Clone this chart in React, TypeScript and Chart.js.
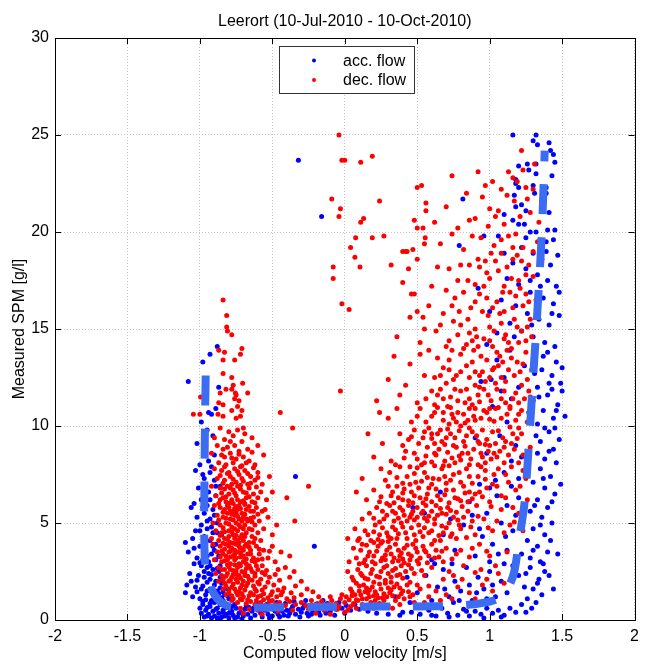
import React, { useEffect, useRef } from "react";
import { Chart, registerables } from "chart.js";

Chart.register(...registerables);

const TITLE = "Leerort (10-Jul-2010 - 10-Oct-2010)";
const X_LABEL = "Computed flow velocity [m/s]";
const Y_LABEL = "Measured SPM [g/l]";
const SERIES_NAMES = ["acc. flow", "dec. flow"];
const X_TICKS = [-2, -1.5, -1, -0.5, 0, 0.5, 1, 1.5, 2];
const Y_TICKS = [0, 5, 10, 15, 20, 25, 30];

type P = [number, number];

// ---------- acc. flow (blue) ----------
const accLeft: P[] = [
  [-0.88,14.1],[-0.93,13.7],[-0.98,13.3],[-1.08,12.3],[-0.87,12.0],[-0.89,10.9],[-0.94,10.7],[-0.92,10.6],
  [-0.99,10.2],[-0.95,9.8],[-0.91,9.5],[-1.02,9.1],[-0.97,8.8],[-0.9,8.5],[-0.94,8.2],[-1.0,8.0],
  [-1.03,7.7],[-0.98,7.5],[-0.93,7.6],[-0.9,7.2],[-0.96,7.0],[-1.01,6.8],[-0.94,6.6],[-0.89,6.4],[-0.99,6.2],
  [-1.04,6.0],[-0.95,5.9],[-0.91,5.7],[-0.97,5.5],[-1.02,5.3],[-0.93,5.2],[-0.88,5.0],[-1.06,5.8],[-0.86,6.9],
  [-0.99,4.9],[-0.95,4.7],[-1.03,4.6],[-0.91,4.5],[-0.97,4.3],[-1.05,4.2],[-0.93,4.1],[-0.89,3.9],[-1.0,3.8],
  [-0.96,3.6],[-1.08,3.5],[-0.92,3.4],[-0.87,3.3],[-1.02,3.2],[-0.98,3.1],[-0.94,3.0],[-0.9,3.6],[-0.85,4.4],[-1.1,4.0],
  [-1.04,2.9],[-0.99,2.8],[-0.95,2.7],[-0.91,2.6],[-0.87,2.5],[-1.07,2.4],[-1.01,2.3],[-0.97,2.2],[-0.93,2.1],
  [-0.89,2.0],[-0.85,1.9],[-1.09,1.8],[-1.03,1.7],[-0.99,1.6],[-0.95,1.5],[-0.91,1.45],[-0.87,1.35],[-0.83,1.3],
  [-1.05,1.2],[-1.0,1.1],[-0.96,1.05],[-0.92,1.0],[-0.88,0.95],[-0.84,1.0],[-0.8,1.1],[-1.1,1.4],[-0.94,2.4],
  [-0.86,2.8],[-1.06,2.0],[-0.81,1.6],[-0.21,3.8],[-0.34,7.4],[-0.32,23.7],[-0.16,20.8]
];

const accLeftDense: P[] = [
  [-0.92,7.9],[-0.97,7.3],[-0.89,6.9],[-0.93,6.2],[-0.98,5.8],[-0.9,5.4],[-0.95,5.1],[-1.0,4.6],[-0.92,4.8],
  [-0.88,4.5],[-0.96,4.0],[-0.91,3.8],[-1.04,3.7],[-0.95,3.3],[-0.89,3.1],[-1.0,2.95],[-0.93,2.8],[-0.88,2.65],
  [-0.97,2.5],[-0.92,2.35],[-0.86,2.2],[-1.02,2.05],[-0.95,1.95],[-0.9,1.8],[-0.86,1.65],[-0.98,1.75],[-0.93,1.6],
  [-0.88,1.5],[-0.84,1.45],[-1.02,1.45],[-0.96,1.3],[-0.9,1.2],[-0.85,1.15],[-0.81,1.25],[-0.98,0.95],[-0.93,0.85],
  [-0.86,0.8],[-0.82,0.65],[-0.78,0.7],[-1.0,0.6],[-0.95,0.65],[-0.89,0.55],[-0.84,0.4],[-0.8,0.35],[-0.76,0.1],
  [-0.71,0.05],[-0.99,0.35],[-0.95,0.2],[-0.88,0.1],[-0.83,0.2],[-0.63,0.6],[-0.56,0.65],[-0.49,0.55],[-0.43,0.45],
  [-0.37,0.55],[-0.29,0.6],[-0.23,0.3],[-0.13,0.35],[-0.07,0.25],[0.0,0.35]
];

const accBottom: P[] = [
  [-0.98,0.8],[-0.96,0.5],[-0.94,0.3],[-0.93,0.7],[-0.91,0.45],[-0.9,0.2],[-0.88,0.6],[-0.87,0.35],[-0.85,0.15],
  [-0.84,0.5],[-0.82,0.3],[-0.81,0.7],[-0.8,0.1],[-0.78,0.45],[-0.77,0.25],[-0.75,0.6],[-0.74,0.15],[-0.72,0.4],
  [-0.7,0.2],[-0.69,0.55],[-0.67,0.3],[-0.65,0.1],[-0.64,0.45],[-0.62,0.25],[-0.6,0.6],[-0.58,0.35],[-0.57,0.15],
  [-0.55,0.5],[-0.53,0.3],[-0.51,0.65],[-0.5,0.2],[-0.48,0.45],[-0.46,0.3],[-0.44,0.6],[-0.42,0.25],[-0.4,0.5],
  [-0.38,0.35],[-0.36,0.7],[-0.34,0.3],[-0.32,0.55],[-0.3,0.4],[-0.28,0.75],[-0.26,0.35],[-0.24,0.6],[-0.22,0.45],
  [-0.2,0.8],[-0.18,0.4],[-0.16,0.65],[-0.14,0.5],[-0.12,0.85],[-0.1,0.45],[-0.08,0.7],[-0.06,0.55],[-0.04,0.9],
  [-0.02,0.6],[0.01,0.75],[0.04,0.5],[0.07,0.8],[-0.92,0.1],[-0.86,0.05],[-0.79,0.55],[-0.73,0.35],[-0.66,0.65],
  [-0.59,0.5],[-0.52,0.1],[-0.45,0.15],[-0.39,0.2],[-0.31,0.15],[-0.25,0.2],[-0.17,0.25],[-0.9,0.9],[-0.83,0.85],
  [-0.76,0.8],[-0.68,0.75],[-0.61,0.85],[-0.54,0.8],[-0.47,0.9],[-0.41,0.85],[-0.35,0.95],[-0.27,1.0],[-0.15,1.0],
  [0.1,0.55],[0.16,0.45],[0.22,0.35],[0.3,0.3],[0.38,0.25],[0.46,0.4],[-0.97,0.15]
];

const accRight: P[] = [
  [1.16,25.0],[1.32,25.0],[1.3,24.7],[1.33,24.5],[1.41,24.6],[1.42,24.2],[1.32,23.5],[1.26,23.5],[1.2,23.4],
  [1.27,23.2],[1.43,22.9],[1.32,23.0],[1.18,22.7],[1.18,22.5],[1.2,22.3],[1.17,21.9],[1.3,22.4],[1.39,22.3],
  [1.31,22.0],[1.39,22.0],[0.815,21.7],[1.22,21.4],[1.18,21.3],[1.25,21.1],[1.41,21.0],[1.1,20.9],[1.16,20.6],
  [1.2,20.4],[1.24,20.4],[1.28,20.0],[1.32,20.0],[1.4,20.1],[1.45,20.1],[0.96,19.8],[1.06,19.8],[0.79,19.3],
  [1.39,19.5],[1.44,19.6],[1.44,24.0],[1.45,23.6],
  [1.22,19.2],[1.3,18.9],[1.36,18.6],[1.42,18.3],[1.47,18.8],[1.16,18.4],[1.25,18.1],[1.33,17.8],[1.4,17.5],
  [1.46,17.2],[1.12,17.6],[1.2,17.3],[1.28,16.9],[1.37,16.6],[1.44,16.3],[1.08,16.5],[1.18,16.2],[1.26,15.8],
  [1.34,15.5],[1.41,15.2],[1.48,15.7],[1.14,15.3],[1.22,14.9],[1.3,14.6],[1.38,14.3],[1.45,14.1],[1.05,14.8],
  [1.1,18.9],[1.0,15.9],[0.92,17.1],[1.39,19.0],[1.48,16.9],
  [1.4,13.8],[1.46,13.3],[1.36,12.9],[1.43,12.6],[1.49,12.2],[1.33,12.0],[1.4,11.6],[1.47,11.1],[1.52,10.5],
  [1.3,11.3],[1.37,10.8],[1.44,10.4],[1.33,10.1],[1.41,9.7],[1.48,9.3],[1.35,9.2],[1.44,8.8],[1.38,8.3],
  [1.46,8.1],[1.05,13.4],[1.1,12.5],[1.15,11.4],[1.02,11.0],[1.12,10.2],[1.07,9.5],[1.18,9.0],[0.98,8.6],
  [1.22,8.4],[1.24,13.1],[1.2,12.0],[1.27,10.7],[1.14,13.9],[0.94,12.3],[1.45,9.9],[1.5,11.8],
  [1.35,7.8],[1.42,7.4],[1.3,7.1],[1.38,6.8],[1.45,6.5],[1.33,6.2],[1.4,5.8],[1.28,5.6],[1.36,5.3],[1.43,5.0],
  [1.3,4.7],[1.38,4.4],[1.26,4.1],[1.33,3.8],[1.4,3.5],[1.28,3.2],[1.35,3.0],[1.1,7.6],[1.15,6.9],[1.05,6.4],
  [1.12,5.9],[0.98,5.5],[1.08,5.0],[1.16,4.6],[0.95,4.3],[1.02,3.9],[1.12,3.6],[0.9,3.3],[1.0,3.0],[1.2,7.3],
  [0.86,6.1],[0.82,4.9],[0.76,3.6],[0.68,4.4],[0.6,3.1],[0.55,5.5],[0.47,5.8],[0.43,2.2],[0.66,6.6],[0.93,7.0],
  [1.22,3.4],[1.18,5.4],[1.04,7.2],
  [0.52,0.3],[0.58,0.5],[0.63,0.2],[0.67,0.6],[0.71,0.35],[0.75,0.9],[0.78,0.25],[0.82,0.55],[0.86,0.2],
  [0.9,0.45],[0.94,0.3],[0.98,0.6],[1.02,0.35],[1.06,0.5],[1.1,0.25],[1.14,0.6],[1.18,0.4],[1.22,0.8],
  [1.26,1.1],[1.3,1.6],[1.34,2.1],[1.38,2.5],[1.24,1.7],[1.2,2.3],[1.16,2.8],[1.12,1.4],[1.08,2.0],[1.04,1.2],
  [1.0,2.5],[0.96,1.6],[0.92,2.2],[0.88,1.0],[0.84,2.7],[0.8,1.5],[0.76,2.0],[0.72,1.2],[0.68,2.6],[0.64,1.7],
  [0.6,1.0],[0.56,2.3],[0.5,1.4],[0.45,0.9],[0.4,0.4],[0.35,1.2],[0.62,2.9],[0.74,2.9],[0.86,1.8],[0.98,1.1],
  [1.1,2.9],[1.28,2.7],[1.32,0.9],[1.36,1.3]
];

const accRightDense: P[] = [
  [1.25,19.7],[1.35,17.2],[1.43,15.8],[1.29,15.2],[1.37,13.6],[1.31,12.7],[1.41,12.2],[1.34,11.5],[1.43,11.9],
  [1.38,9.9],[1.32,9.5],[1.41,8.7],[1.33,8.6],[1.37,7.3],[1.43,6.1],[1.31,5.9],[1.35,4.9],[1.42,4.1],[1.3,3.6],
  [1.37,2.9],[1.25,2.4],[1.33,1.9],[1.41,2.3],[1.29,0.6],[1.25,0.4],[1.08,0.15],[0.96,0.1],[0.84,0.45],[0.72,0.15],
  [0.6,0.25],[0.69,1.6],[0.79,1.0],[0.91,1.4],[1.02,1.8],[1.15,2.2],[1.06,3.4],[0.93,4.7],[1.11,4.3],[1.2,6.3],
  [1.0,6.8],[0.88,5.4],[0.73,5.2],[1.15,8.2],[1.08,11.8],[1.17,14.6],[1.28,17.5],[1.5,13.0],[1.46,10.8],[1.49,7.0],
  [1.47,3.4],[1.44,1.6],[0.98,14.2],[0.9,9.4],[1.01,12.4]
];

// ---------- dec. flow (red) ----------
const decOutliers: P[] = [
  [-0.04,25.0],[-0.02,23.7],[0.0,23.7],[0.11,23.6],[0.19,23.9],[0.5,22.3],[0.53,22.4],[-0.09,21.7],[0.24,21.6],
  [-0.03,21.2],[-0.04,20.8],[0.13,20.7],[0.11,20.5],[0.56,21.5],[0.56,21.1],[0.48,20.6],[0.5,20.2],[0.54,20.2],
  [0.075,19.7],[0.19,19.7],[0.27,19.8],[0.04,19.2],[0.07,18.7],[0.4,19.0],[0.42,19.0],[0.43,19.0],[0.47,19.1],
  [0.55,19.4],[0.555,19.7],[-0.08,18.2],[0.105,18.2],[0.32,18.3],[0.44,18.1],[-0.08,17.6],[0.46,16.8],[0.48,16.8],
  [-0.02,16.3],[0.03,16.0],[0.5,15.9],[0.54,15.6],
  [-0.84,16.5],[-0.815,15.7],[-0.815,15.1],[-0.81,14.9],[-0.78,14.7],[-0.87,13.9],[-0.83,13.8],[-0.71,14.0],
  [-0.72,13.7],[-0.84,13.4],[-0.76,13.4],[-0.84,12.7],[-0.78,12.5],[-0.77,12.1],[-0.705,12.2],[-0.82,11.9],
  [-0.78,11.9],[-0.86,11.7],[-0.755,11.7],[-0.67,11.7],[-0.75,11.6],[-0.995,11.5],[-0.76,11.4],[-0.87,11.2],
  [-0.73,11.3],[-0.84,11.1],[-0.74,11.0],[-0.78,10.8],[-0.71,10.8],[-1.045,10.6],[-1.0,10.6],[-0.875,10.6],
  [-0.84,10.5],[-0.75,10.4],[-0.72,10.5],[-0.445,10.7],[-0.36,9.9],[-0.03,11.8],[-0.25,6.9],[-0.40,6.3],[-0.345,5.1]
];

const decLeft: P[] = [
  [-0.86,9.9],[-0.8,9.7],[-0.74,9.8],[-0.69,9.6],[-0.9,9.4],[-0.83,9.3],[-0.77,9.5],[-0.71,9.2],[-0.64,9.4],
  [-0.88,9.0],[-0.81,8.9],[-0.76,9.0],[-0.73,8.7],[-0.67,8.8],[-0.6,9.0],[-0.92,8.6],[-0.85,8.5],[-0.79,8.6],
  [-0.75,8.3],[-0.7,8.4],[-0.66,8.2],[-0.87,8.1],[-0.82,8.0],[-0.77,8.1],[-0.72,7.9],[-0.62,8.0],[-0.56,8.5],
  [-0.84,8.8],[-0.79,9.2],[-0.7,9.9],
  [-0.9,7.8],[-0.85,7.7],[-0.8,7.6],[-0.76,7.8],[-0.73,7.5],[-0.69,7.7],[-0.65,7.4],[-0.6,7.6],[-0.88,7.3],
  [-0.83,7.2],[-0.79,7.4],[-0.75,7.1],[-0.71,7.3],[-0.67,7.0],[-0.62,7.2],[-0.57,7.0],[-0.92,6.9],[-0.86,6.8],
  [-0.81,6.9],[-0.77,6.7],[-0.74,6.9],[-0.7,6.6],[-0.66,6.8],[-0.63,6.5],[-0.58,6.6],[-0.89,6.4],[-0.84,6.3],
  [-0.8,6.5],[-0.78,6.2],[-0.75,6.4],[-0.72,6.1],[-0.68,6.3],[-0.64,6.1],[-0.6,6.3],[-0.54,6.2],[-0.87,6.0],
  [-0.82,6.1],[-0.77,6.0],[-0.73,5.9],[-0.69,6.0],[-0.83,7.9],[-0.71,7.95],[-0.78,7.0],[-0.5,6.6],[-0.52,7.4],
  [-0.9,5.9],[-0.86,5.8],[-0.83,5.7],[-0.8,5.8],[-0.77,5.6],[-0.74,5.7],[-0.71,5.5],[-0.68,5.7],[-0.65,5.6],
  [-0.61,5.8],[-0.57,5.6],[-0.88,5.4],[-0.84,5.3],[-0.81,5.5],[-0.79,5.2],[-0.76,5.4],[-0.73,5.2],[-0.7,5.3],
  [-0.67,5.1],[-0.63,5.3],[-0.59,5.1],[-0.53,5.3],[-0.91,5.0],[-0.86,4.9],[-0.82,5.0],[-0.78,4.8],[-0.75,5.0],
  [-0.72,4.8],[-0.69,4.9],[-0.66,4.7],[-0.62,4.9],[-0.56,4.7],[-0.89,4.6],[-0.85,4.5],[-0.8,4.6],[-0.77,4.4],
  [-0.74,4.6],[-0.71,4.4],[-0.68,4.5],[-0.64,4.3],[-0.6,4.5],[-0.5,4.4],[-0.92,4.2],[-0.87,4.1],[-0.83,4.2],
  [-0.79,4.0],[-0.76,4.2],[-0.73,4.0],[-0.7,4.1],[-0.66,4.0],[-0.58,4.1],[-0.47,4.9],[-0.81,5.9],[-0.75,5.85],
  [-0.69,5.95],[-0.84,4.75],[-0.78,5.45],[-0.72,4.25],[-0.64,5.05],[-0.55,5.7],[-0.76,4.7],[-0.8,4.3],
  [-0.91,3.9],[-0.86,3.8],[-0.82,3.9],[-0.78,3.7],[-0.75,3.9],[-0.72,3.7],[-0.69,3.8],[-0.65,3.6],[-0.61,3.8],
  [-0.56,3.6],[-0.5,3.8],[-0.44,3.5],[-0.88,3.5],[-0.84,3.4],[-0.8,3.5],[-0.77,3.3],[-0.74,3.5],[-0.7,3.3],
  [-0.67,3.4],[-0.63,3.2],[-0.59,3.4],[-0.53,3.2],[-0.9,3.1],[-0.85,3.0],[-0.81,3.1],[-0.79,2.9],[-0.76,3.1],
  [-0.73,2.9],[-0.7,3.0],[-0.66,2.8],[-0.62,3.0],[-0.57,2.8],[-0.48,3.0],[-0.41,2.7],[-0.87,2.7],[-0.83,2.6],
  [-0.8,2.75],[-0.77,2.55],[-0.74,2.7],[-0.71,2.5],[-0.68,2.65],[-0.64,2.5],[-0.6,2.6],[-0.54,2.55],[-0.46,2.6],
  [-0.38,3.3],[-0.35,2.5],[-0.83,3.65],[-0.76,3.6],[-0.68,3.15],[-0.6,3.1],[-0.52,3.55],[-0.79,3.25],[-0.72,3.25],
  [-0.86,3.25],
  [-0.89,2.4],[-0.85,2.3],[-0.81,2.4],[-0.78,2.2],[-0.75,2.35],[-0.72,2.15],[-0.69,2.3],[-0.66,2.1],[-0.62,2.25],
  [-0.58,2.1],[-0.52,2.2],[-0.45,2.05],[-0.38,2.2],[-0.3,2.0],[-0.87,2.0],[-0.83,1.9],[-0.8,2.0],[-0.77,1.85],
  [-0.74,1.95],[-0.71,1.8],[-0.67,1.9],[-0.63,1.75],[-0.59,1.85],[-0.55,1.7],[-0.49,1.8],[-0.42,1.65],[-0.34,1.75],
  [-0.26,1.6],[-0.84,1.6],[-0.8,1.55],[-0.76,1.6],[-0.73,1.45],[-0.69,1.55],[-0.65,1.4],[-0.61,1.5],[-0.56,1.35],
  [-0.5,1.45],[-0.44,1.3],[-0.37,1.4],[-0.3,1.3],[-0.22,1.45],[-0.82,1.3],[-0.78,1.25],[-0.74,1.3],[-0.7,1.2],
  [-0.66,1.25],[-0.6,1.2],[-0.53,1.15],[-0.47,1.2],[-0.4,1.1]
];

const decLeftCore: P[] = [
  [-0.83,8.4],[-0.78,8.35],[-0.73,8.55],[-0.68,8.1],[-0.64,8.65],[-0.81,7.55],[-0.74,7.65],[-0.67,7.55],[-0.63,7.85],
  [-0.86,7.45],[-0.77,7.25],[-0.7,7.15],[-0.6,7.35],[-0.84,7.05],[-0.72,6.95],[-0.65,7.05],
  [-0.83,6.75],[-0.79,6.8],[-0.72,6.75],[-0.68,6.55],[-0.61,6.85],[-0.85,6.55],[-0.76,6.55],[-0.66,6.35],[-0.82,6.35],
  [-0.79,6.05],[-0.74,6.2],[-0.7,6.15],[-0.62,6.05],[-0.86,6.2],[-0.76,5.75],[-0.72,5.75],[-0.66,5.85],[-0.63,5.6],
  [-0.84,5.55],[-0.79,5.6],[-0.75,5.5],[-0.69,5.45],[-0.6,5.45],[-0.82,5.25],[-0.77,5.15],[-0.71,5.1],[-0.65,5.25],
  [-0.87,5.15],[-0.74,5.35],[-0.68,5.2],
  [-0.8,4.95],[-0.73,4.9],[-0.7,4.7],[-0.64,4.65],[-0.83,4.55],[-0.78,4.55],[-0.75,4.35],[-0.69,4.3],[-0.62,4.2],
  [-0.86,4.35],[-0.81,4.15],[-0.77,3.95],[-0.74,4.1],[-0.68,3.9],[-0.63,4.0],[-0.84,3.95],[-0.8,3.8],[-0.73,3.8],
  [-0.7,3.6],[-0.66,3.75],[-0.59,3.65],[-0.85,3.55],[-0.79,3.55],[-0.76,3.4],[-0.72,3.45],[-0.65,3.4],[-0.82,3.3],
  [-0.75,3.2],[-0.69,3.15],[-0.64,3.05],[-0.57,3.15],[-0.83,3.05],
  [-0.81,2.85],[-0.76,2.85],[-0.72,2.8],[-0.68,2.9],[-0.61,2.8],[-0.85,2.6],[-0.79,2.6],[-0.75,2.5],[-0.69,2.45],
  [-0.65,2.65],[-0.57,2.45],[-0.82,2.25],[-0.77,2.35],[-0.73,2.3],[-0.67,2.25],[-0.62,2.4],[-0.55,2.35],[-0.48,2.35],
  [-0.84,2.1],[-0.79,2.05],[-0.75,2.1],[-0.7,2.0],[-0.64,2.05],[-0.6,1.95],[-0.53,1.95],[-0.82,1.75],[-0.78,1.7],
  [-0.72,1.65],[-0.68,1.75],[-0.62,1.6],[-0.57,1.55],[-0.46,1.55],[-0.8,1.4],[-0.75,1.45],[-0.71,1.35],[-0.63,1.3],
  [-0.58,1.25],[-0.51,1.3],[-0.43,1.45],[-0.35,1.15],[-0.77,1.1],[-0.72,1.1],[-0.67,1.05],[-0.61,1.0],[-0.56,1.05],
  [-0.5,1.0]
];

const decBottom: P[] = [
  [-0.78,1.0],[-0.74,0.9],[-0.71,1.05],[-0.68,0.85],[-0.65,0.95],[-0.62,0.8],[-0.58,0.9],[-0.55,0.75],[-0.52,0.95],
  [-0.48,0.8],[-0.45,0.9],[-0.41,0.75],[-0.38,0.95],[-0.34,0.8],[-0.3,0.9],[-0.27,0.75],[-0.23,1.0],[-0.19,0.85],
  [-0.16,0.95],[-0.12,0.8],[-0.09,1.0],[-0.06,0.85],[-0.03,1.1],[0.0,0.9],[0.03,1.05],[0.06,0.85],[0.09,1.0],
  [0.12,0.8],[0.15,1.1],[0.18,0.9],[0.21,1.0],[0.24,0.85],[-0.72,0.6],[-0.66,0.55],[-0.6,0.5],[-0.53,0.55],
  [-0.46,0.45],[-0.36,0.5],[-0.25,0.55],[-0.14,0.5],[-0.05,0.55],[0.02,0.5],[0.08,0.6],[-0.1,1.2],[-0.02,1.3],
  [0.05,1.25],[0.11,1.3],[-0.18,1.2],[0.0,0.4],[-0.04,0.7],[0.04,0.7],[-0.08,0.65],[0.14,0.6],[-0.7,0.35],
  [-0.57,0.3],[0.2,0.6],[0.27,1.0],[0.3,0.75],[-0.2,0.35],[-0.1,0.3]
];

const decFan: P[] = [
  [0.1,1.5],[0.13,1.8],[0.16,1.4],[0.19,1.7],[0.22,1.3],[0.25,1.6],[0.28,1.9],[0.31,1.4],[0.34,1.7],[0.37,1.2],
  [0.4,1.5],[0.43,1.8],[0.12,1.1],[0.17,1.2],[0.23,1.15],[0.29,1.2],[0.35,1.0],[0.41,1.1],[0.47,1.3],[0.52,1.6],
  [0.58,1.2],[0.63,1.5],[0.7,1.3],[0.78,1.7],[0.86,1.4],[0.95,1.8],[1.02,1.5],[1.1,1.9],[0.08,1.9],[0.2,1.95],
  [0.32,1.95],[0.45,1.95],[0.55,0.9],[0.66,1.0],[0.74,1.1],[0.9,1.1],[0.33,0.6],[0.38,0.8],[0.48,0.9],
  [0.05,2.2],[0.09,2.6],[0.12,2.3],[0.15,2.8],[0.18,2.4],[0.21,2.9],[0.24,2.2],[0.27,2.7],[0.3,2.4],[0.33,3.0],
  [0.36,2.3],[0.39,2.8],[0.42,2.5],[0.45,3.1],[0.48,2.4],[0.51,2.9],[0.55,2.3],[0.6,2.7],[0.08,3.2],[0.11,3.6],
  [0.14,3.1],[0.17,3.5],[0.2,3.3],[0.23,3.8],[0.26,3.2],[0.29,3.6],[0.32,3.4],[0.35,3.9],[0.38,3.3],[0.41,3.7],
  [0.44,3.4],[0.47,3.9],[0.5,3.5],[0.54,3.8],[0.58,3.3],[0.63,3.6],[0.68,3.0],[0.72,2.5],[0.77,3.4],[0.82,2.8],
  [0.88,3.7],[0.94,2.6],[1.0,3.3],[1.06,2.4],[1.12,3.5],[1.18,2.9],[0.02,2.5],[0.16,2.1],[0.28,2.05],[0.4,2.15],
  [0.25,3.95],[0.13,2.95],[0.37,3.05],
  [0.1,4.2],[0.14,4.6],[0.18,4.1],[0.21,4.9],[0.24,4.4],[0.27,5.2],[0.3,4.3],[0.33,4.8],[0.36,4.2],[0.39,5.0],
  [0.42,4.5],[0.45,5.3],[0.48,4.4],[0.51,4.9],[0.54,4.3],[0.57,5.1],[0.6,4.6],[0.64,5.4],[0.68,4.5],[0.72,5.0],
  [0.17,5.5],[0.22,5.8],[0.26,5.6],[0.31,5.9],[0.35,5.5],[0.38,5.8],[0.41,5.4],[0.44,5.9],[0.47,5.6],[0.5,5.8],
  [0.53,5.5],[0.56,5.9],[0.6,5.6],[0.63,5.9],[0.67,5.5],[0.71,5.8],[0.75,5.3],[0.8,4.7],[0.85,5.6],[0.9,4.4],
  [0.96,5.2],[1.02,4.6],[1.08,5.7],[1.14,4.9],[1.2,5.5],[0.07,4.7],[0.12,5.2],[0.02,4.2],[0.35,4.65],[0.55,4.75],
  [0.26,4.05],[0.48,5.15],[0.66,4.1],[0.77,4.2],[0.88,5.1],
  [0.15,6.2],[0.2,6.7],[0.24,6.1],[0.28,7.2],[0.32,6.4],[0.36,6.9],[0.4,6.2],[0.43,7.4],[0.46,6.6],[0.49,7.1],
  [0.52,6.3],[0.55,7.6],[0.58,6.8],[0.61,7.3],[0.64,6.4],[0.67,7.8],[0.7,6.7],[0.73,7.2],[0.76,6.3],[0.79,7.6],
  [0.82,6.9],[0.86,7.4],[0.9,6.5],[0.94,7.9],[0.98,6.8],[1.03,7.5],[1.08,6.4],[1.13,7.1],[1.18,6.7],[1.23,7.7],
  [0.25,7.8],[0.31,7.6],[0.38,7.9],[0.5,7.85],[0.62,7.95],[0.72,7.95],[0.85,6.1],[0.41,6.75],[0.56,6.25],[0.69,7.4],
  [0.8,6.15],[0.34,6.05],[0.47,6.05],[0.08,6.6],[0.12,7.3],[1.0,6.1],
  [0.2,8.4],[0.26,9.1],[0.32,8.2],[0.38,9.6],[0.42,8.7],[0.46,10.2],[0.5,8.3],[0.54,9.4],[0.57,8.9],[0.6,10.5],
  [0.63,8.5],[0.66,9.8],[0.69,8.2],[0.72,10.1],[0.75,9.0],[0.78,10.7],[0.81,8.6],[0.84,9.5],[0.87,8.3],[0.9,10.3],
  [0.93,9.1],[0.96,10.8],[0.99,8.7],[1.02,9.7],[1.05,8.4],[1.08,10.4],[1.11,9.2],[1.14,10.9],[1.17,8.8],[1.2,9.9],
  [1.23,8.5],[0.3,10.4],[0.36,10.9],[0.44,9.3],[0.52,10.9],[0.58,9.9],[0.64,10.95],[0.7,9.4],[0.76,8.1],[0.8,10.0],
  [0.86,10.9],[0.92,8.0],[0.98,9.3],[1.04,10.9],[1.1,8.1],[1.16,9.6],[0.48,9.8],[0.62,9.1],[0.74,10.6],[0.88,9.7],
  [0.95,8.4],[1.0,10.35],[0.16,9.6],[0.24,10.7],
  [0.22,11.3],[0.3,12.4],[0.38,11.6],[0.45,13.2],[0.5,11.2],[0.55,12.6],[0.6,11.8],[0.64,13.5],[0.68,11.4],
  [0.72,12.9],[0.76,11.9],[0.8,13.7],[0.83,11.2],[0.86,12.5],[0.89,13.9],[0.92,11.6],[0.95,12.8],[0.98,13.4],
  [1.01,11.3],[1.04,12.2],[1.07,13.6],[1.1,11.8],[1.13,12.9],[1.16,11.4],[1.19,13.3],[1.22,12.1],[1.25,13.8],
  [1.28,11.5],[0.42,12.1],[0.58,13.9],[0.7,12.2],[0.78,11.3],[0.84,13.1],[0.9,12.1],[0.96,11.9],[1.03,13.0],
  [1.12,13.9],[1.2,11.2],[0.66,12.6],[0.34,13.6],[0.52,13.7],[0.74,13.9],[0.88,11.1],[1.08,12.5],
  [0.36,14.6],[0.45,15.6],[0.52,14.3],[0.58,16.2],[0.63,14.9],[0.68,15.8],[0.72,14.4],[0.76,16.6],[0.8,15.2],
  [0.84,14.2],[0.87,16.1],[0.9,15.0],[0.93,16.8],[0.96,14.5],[0.99,15.7],[1.02,14.1],[1.05,16.4],[1.08,15.3],
  [1.11,14.7],[1.14,16.9],[1.17,15.5],[1.2,14.3],[1.23,16.2],[1.26,15.1],[1.29,14.6],[1.32,16.5],[0.7,17.0],
  [0.82,16.9],[0.98,16.6],[1.1,15.9],[1.18,16.7],[0.66,15.2],[0.86,14.8],[1.0,15.1],[1.22,14.9],[0.55,15.0],
  [0.75,15.4],[0.92,14.1],
  [0.4,17.4],[0.5,18.6],[0.6,17.2],[0.66,19.4],[0.72,18.1],[0.78,17.5],[0.82,19.1],[0.86,18.3],[0.9,17.3],
  [0.94,19.7],[0.97,18.5],[1.0,17.6],[1.03,19.3],[1.06,18.0],[1.1,17.2],[1.13,19.8],[1.16,18.6],[1.2,17.5],
  [1.23,19.2],[1.27,18.3],[1.3,17.7],[1.33,19.5],[0.74,19.9],[0.88,19.8],[1.08,18.9],[0.64,18.2],[1.18,19.9],
  [0.8,18.3],
  [0.62,20.5],[0.7,21.3],[0.78,20.2],[0.84,22.0],[0.9,20.7],[0.95,21.8],[0.99,20.3],[1.02,22.6],[1.06,21.1],
  [1.1,20.4],[1.13,23.1],[1.17,21.6],[1.21,20.8],[1.25,22.3],[1.28,21.0],[1.31,23.5],[1.34,20.5],[0.74,22.9],
  [0.92,23.1],[1.22,24.2],[1.3,22.2],[1.23,23.2]
];

const decFanDense: P[] = [
  [0.01,1.2],[0.04,1.6],[0.07,1.3],[0.1,1.75],[0.14,1.45],[0.17,1.55],[0.2,1.25],[0.24,1.85],[0.27,1.35],[0.3,1.65],
  [0.33,1.25],[0.36,1.85],[0.39,1.35],[0.44,1.45],[0.5,1.8],[0.06,2.05],[0.11,2.4],[0.14,2.15],[0.19,2.6],[0.22,2.25],
  [0.25,2.5],[0.29,2.8],[0.32,2.2],[0.35,2.65],[0.38,2.35],[0.41,2.95],[0.46,2.65],[0.53,2.55],[0.57,2.95],[0.1,2.9],
  [0.16,3.3],[0.19,3.0],[0.22,3.55],[0.25,3.05],[0.28,3.35],[0.31,3.75],[0.34,3.2],[0.37,3.6],[0.4,3.15],[0.43,3.85],
  [0.46,3.3],[0.49,3.7],[0.52,3.2],[0.56,3.5],[0.6,3.9],[0.65,3.25],[0.7,3.7],[0.15,3.85],[0.2,4.0],[0.3,4.05],
  [0.16,4.4],[0.2,4.55],[0.23,4.15],[0.26,4.75],[0.29,4.5],[0.32,4.2],[0.34,5.1],[0.37,4.45],[0.4,4.8],[0.43,4.2],
  [0.46,4.75],[0.49,4.1],[0.52,4.55],[0.55,5.25],[0.58,4.5],[0.62,4.95],[0.65,4.35],[0.7,4.75],[0.74,4.45],[0.78,5.15],
  [0.2,5.25],[0.24,5.05],[0.29,5.4],[0.33,5.6],[0.37,5.25],[0.4,5.65],[0.43,5.1],[0.46,5.45],[0.5,5.3],[0.54,5.6],
  [0.58,5.35],[0.62,5.2],[0.66,5.75],[0.7,5.45],[0.73,5.65],[0.77,5.55],[0.82,5.3],[0.25,6.35],[0.29,6.0],[0.33,6.6],
  [0.37,6.3],[0.4,6.55],[0.44,6.15],[0.48,6.4],[0.51,6.8],[0.54,6.05],[0.57,6.5],[0.6,6.1],[0.63,6.75],[0.66,6.2],
  [0.69,6.45],[0.72,6.05],[0.75,6.7],[0.78,6.25],[0.83,6.55],[0.88,6.25],[0.93,6.6],[0.3,6.9],[0.36,7.35],[0.4,7.05],
  [0.45,7.0],[0.48,7.55],[0.53,7.15],[0.57,7.35],[0.6,7.0],[0.65,7.25],[0.7,7.05],[0.75,7.5],[0.8,7.1],[0.84,7.8],
  [0.88,7.05],[0.92,7.4],[0.97,7.25],
  [0.35,8.0],[0.41,8.35],[0.45,7.9],[0.48,8.6],[0.53,8.0],[0.56,8.45],[0.6,8.15],[0.65,8.8],[0.68,7.95],[0.71,8.65],
  [0.74,8.35],[0.77,8.9],[0.8,8.25],[0.83,8.95],[0.86,8.0],[0.89,8.8],[0.94,8.6],[0.97,9.05],[1.01,8.3],[1.04,9.1],
  [1.07,8.7],[1.13,8.5],[0.4,9.0],[0.46,9.45],[0.51,9.1],[0.55,9.7],[0.6,9.35],[0.64,9.6],[0.67,9.2],[0.71,9.85],
  [0.76,9.4],[0.79,9.75],[0.82,9.2],[0.86,9.9],[0.91,9.5],[0.95,9.8],[1.0,9.0],[1.06,9.75],[1.09,9.4],[1.14,9.95],
  [1.19,9.35],[0.5,10.5],[0.56,10.2],[0.62,10.7],[0.68,10.3],[0.73,10.95],[0.77,10.2],[0.82,10.6],[0.85,10.3],
  [0.9,10.9],[0.94,10.4],[0.98,10.7],[1.03,10.25],[1.06,10.95],[1.12,10.6],[1.18,10.3],[1.22,10.8],[0.56,11.4],
  [0.62,11.1],[0.66,11.9],[0.73,11.5],[0.8,11.8],[0.86,11.4],[0.93,12.0],[0.99,11.6],[1.05,11.9],[1.11,11.2],
  [1.18,11.7],[1.24,11.4],
  [0.62,12.5],[0.68,13.0],[0.75,12.4],[0.8,12.8],[0.88,13.3],[0.93,12.6],[1.0,12.5],[1.06,13.1],[1.11,12.3],
  [1.15,13.5],[1.21,12.8],[1.26,12.4],[0.7,14.1],[0.78,14.7],[0.85,15.5],[0.91,14.6],[0.95,15.9],[1.03,14.9],
  [1.07,15.8],[1.13,14.3],[1.16,16.1],[1.25,16.8],[1.28,15.5],[0.74,16.2],[0.85,17.5],[0.92,18.6],[0.98,17.9],
  [1.04,18.5],[1.12,18.2],[1.19,18.8],[1.25,17.8],[1.3,19.0],[0.86,20.6],[0.97,22.4],[1.04,20.8],[1.12,21.9],
  [1.16,22.8],[1.26,21.7]
];

const decFanUpper: P[] = [
  [0.62,4.1],[0.67,4.85],[0.73,4.3],[0.79,4.9],[0.84,4.25],[0.87,4.8],[0.92,5.35],[0.99,4.75],[1.05,5.1],[1.1,4.5],
  [1.17,5.05],[1.23,4.6],[0.81,5.85],[0.86,6.6],[0.91,5.9],[0.95,6.35],[1.01,5.85],[1.05,6.9],[1.11,6.3],[1.16,5.8],
  [1.21,6.9],[1.26,6.2],[0.97,7.7],[1.02,7.0],[1.06,7.8],[1.11,7.5],[1.15,7.9],[1.2,8.1],[1.25,7.3],[1.28,8.9],
  [0.55,8.1],[0.62,8.6],[0.69,9.05],[0.73,9.6],[0.79,8.45],[0.85,8.6],[0.92,9.2],[0.97,8.1],[1.03,8.6],[1.1,8.9],
  [1.15,9.1],[1.22,9.6],[1.26,10.2],[0.6,9.6],[0.68,10.7],[0.75,10.4],[0.83,10.15],[0.89,10.5],[0.93,11.25],[1.0,10.9],
  [1.08,11.4],[1.14,11.0],[1.2,10.6],[1.27,11.8],[0.64,11.6],[0.71,11.0],[0.77,12.6],[0.84,11.9],[0.9,12.8],[0.97,12.3],
  [1.02,12.9],[1.09,13.3],[1.17,12.6],[1.23,13.2],[1.29,12.9],[0.72,13.4],[0.82,14.0],[0.88,14.4],[0.94,13.6],[1.0,14.4],
  [1.05,13.8],[1.1,14.5],[1.15,14.0],[1.19,15.1],[1.25,14.4],[0.79,15.9],[0.9,16.4],[0.96,17.2],[1.02,16.1],[1.09,16.9],
  [1.15,17.6],[1.21,17.1],[1.27,16.4],[0.93,18.2],[1.01,18.9],[1.08,19.6],[1.16,19.2],[1.22,18.5],[1.0,21.2],[1.08,22.2],
  [1.19,22.6],[0.28,3.1],[0.33,2.55],[0.39,3.45],[0.44,2.85],[0.5,3.05],[0.55,3.6],[0.62,3.2],[0.67,3.55],[0.74,3.15],
  [0.8,3.6],[0.86,3.25],[0.93,3.9],[0.98,3.55],[0.05,1.45],[0.08,1.05],[0.15,1.65],[0.21,1.45],[0.26,1.15],[0.32,1.55],
  [0.38,1.65],[0.45,1.2],[0.58,1.75],[0.68,2.1],[0.75,2.3],[0.81,2.1],[0.9,2.45],[0.98,2.1],[1.04,2.8],[0.03,3.0],
  [0.06,3.7],[0.09,4.1],[0.12,3.9]
];

// ---------- dashed fit line ----------
const fitX = [-0.96, -0.965, -0.97, -0.965, -0.95, -0.92, -0.88, -0.83, -0.78, -0.6, -0.3, 0.0, 0.3, 0.5, 0.8, 1.0, 1.08, 1.13, 1.17, 1.2, 1.24, 1.27, 1.3, 1.33, 1.36, 1.38];
const fitY = [12.6, 10.0, 5.0, 3.0, 2.2, 1.6, 1.1, 0.8, 0.68, 0.65, 0.67, 0.68, 0.7, 0.7, 0.75, 0.95, 1.2, 1.7, 2.5, 4.0, 6.0, 9.0, 12.5, 16.0, 20.0, 24.2];

const toXY = (arr: P[]) => arr.map(([x, y]) => ({ x, y }));

const FONT = "'Liberation Sans', Arial, Helvetica, sans-serif";
const W = 646;
const H = 664;

const framePlugin = {
  id: "matlabFrame",
  afterDraw(chart: any) {
    const { ctx, chartArea: a, scales } = chart;
    ctx.save();
    ctx.strokeStyle = "#000";
    ctx.lineWidth = 1;
    const tl = 6;
    ctx.beginPath();
    X_TICKS.forEach((v) => {
      const px = Math.round(scales.x.getPixelForValue(v)) + 0.5;
      ctx.moveTo(px, a.bottom);
      ctx.lineTo(px, a.bottom - tl);
      ctx.moveTo(px, a.top);
      ctx.lineTo(px, a.top + tl);
    });
    Y_TICKS.forEach((v) => {
      const py = Math.round(scales.y.getPixelForValue(v)) + 0.5;
      ctx.moveTo(a.left, py);
      ctx.lineTo(a.left + tl, py);
      ctx.moveTo(a.right, py);
      ctx.lineTo(a.right - tl, py);
    });
    ctx.stroke();
    ctx.strokeRect(Math.round(a.left) + 0.5, Math.round(a.top) + 0.5, Math.round(a.right - a.left), Math.round(a.bottom - a.top));

    // legend
    const lx = 279, ly = 46, lw = 135, lh = 47;
    ctx.fillStyle = "#fff";
    ctx.fillRect(lx, ly, lw, lh);
    ctx.strokeStyle = "#333";
    ctx.strokeRect(lx + 0.5, ly + 0.5, lw, lh);
    const colors = ["#0000ff", "#ff0000"];
    ctx.font = `16px ${FONT}`;
    ctx.textBaseline = "middle";
    ctx.textAlign = "left";
    SERIES_NAMES.forEach((name, i) => {
      const cy = ly + 14.5 + i * 19.5;
      ctx.fillStyle = colors[i];
      ctx.beginPath();
      ctx.arc(314, cy, 2, 0, Math.PI * 2);
      ctx.fill();
      ctx.fillStyle = "#000";
      ctx.fillText(name, 343, cy + 1);
    });

    // title & axis labels
    ctx.fillStyle = "#000";
    ctx.textAlign = "center";
    ctx.textBaseline = "alphabetic";
    ctx.font = `16px ${FONT}`;
    const cx = (a.left + a.right) / 2;
    ctx.fillText(TITLE, cx, 26);
    ctx.fillText(X_LABEL, cx, 658);
    ctx.translate(24, (a.top + a.bottom) / 2);
    ctx.rotate(-Math.PI / 2);
    ctx.fillText(Y_LABEL, 0, 0);
    ctx.restore();
  },
};

export default function App() {
  const ref = useRef<HTMLCanvasElement | null>(null);

  useEffect(() => {
    if (!ref.current) return;
    const fitData = fitX.map((x, i) => ({ x, y: fitY[i] }));
    const chart = new Chart(ref.current, {
      type: "scatter",
      data: {
        datasets: [
          {
            label: "fit",
            data: fitData,
            showLine: true,
            borderColor: "#3b6cf2",
            borderWidth: 8,
            borderDash: [30, 23],
            borderCapStyle: "butt",
            tension: 0.35,
            pointRadius: 0,
            fill: false,
          } as any,
          {
            label: SERIES_NAMES[1],
            data: toXY([...decLeft, ...decLeftCore, ...decBottom, ...decFan, ...decFanDense, ...decFanUpper, ...decOutliers]),
            backgroundColor: "#ff0000",
            borderWidth: 0,
            pointRadius: 2.5,
          },
          {
            label: SERIES_NAMES[0],
            data: toXY([...accLeft, ...accLeftDense, ...accBottom, ...accRight, ...accRightDense]),
            backgroundColor: "#0000ff",
            borderWidth: 0,
            pointRadius: 2.5,
          },
        ],
      },
      options: {
        responsive: false,
        animation: false,
        devicePixelRatio: 1,
        layout: { padding: { left: 0, right: 7, top: 38, bottom: 0 } },
        plugins: {
          legend: { display: false },
          tooltip: { enabled: false },
          title: { display: false },
        },
        scales: {
          x: {
            type: "linear",
            min: -2,
            max: 2,
            afterFit: (s: any) => { s.height = 44; },
            afterBuildTicks: (s: any) => { s.ticks = X_TICKS.map((v) => ({ value: v })); },
            ticks: {
              autoSkip: false,
              maxRotation: 0,
              padding: 7,
              color: "#000",
              font: { family: FONT, size: 16 },
              callback: (v: any) => String(v),
            },
            grid: { color: "#c4c4c4", lineWidth: 1, drawTicks: false },
            border: { display: false, dash: [1, 2] },
          },
          y: {
            type: "linear",
            min: 0,
            max: 30,
            afterFit: (s: any) => { s.width = 55; },
            afterBuildTicks: (s: any) => { s.ticks = Y_TICKS.map((v) => ({ value: v })); },
            ticks: {
              autoSkip: false,
              padding: 6,
              color: "#000",
              font: { family: FONT, size: 16 },
              callback: (v: any) => String(v),
            },
            grid: { color: "#c4c4c4", lineWidth: 1, drawTicks: false },
            border: { display: false, dash: [1, 2] },
          },
        },
      },
      plugins: [framePlugin],
    });
    return () => chart.destroy();
  }, []);

  return (
    <div style={{ position: "absolute", left: 0, top: 0, width: W, height: H, background: "#fff" }}>
      <canvas ref={ref} width={W} height={H} style={{ width: W, height: H, display: "block" }} />
    </div>
  );
}
